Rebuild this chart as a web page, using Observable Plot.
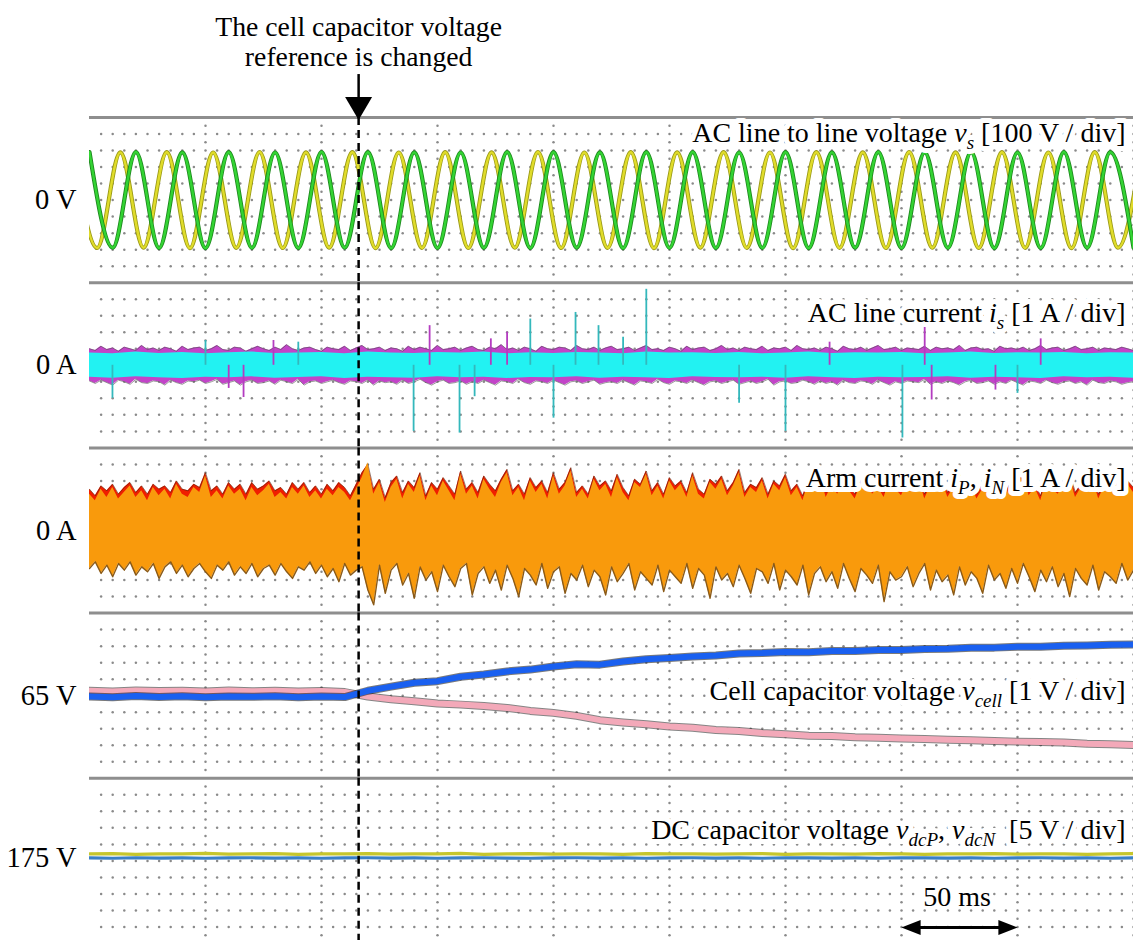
<!DOCTYPE html>
<html>
<head>
<meta charset="utf-8">
<script src="https://cdn.jsdelivr.net/npm/d3@7"></script>
<script src="https://cdn.jsdelivr.net/npm/@observablehq/plot@0.6"></script>
<style>
  body { margin: 0; background: white; }
  svg text { white-space: pre; }
</style>
</head>
<body>
<div id="chart"></div>
<script>
// ---------------- data ----------------
const panels = ["vs", "is", "arm", "cell", "dc"];
const leftLabels = ["0 V", "0 A", "0 A", "65 V", "175 V"];
const leftLabelValues = [0, 0, 0, 65, 175];
const panelTitles = [
  "AC line to line voltage {v|s} [100 V / div]",
  "AC line current {i|s} [1 A / div]",
  "Arm current {i|P}, {i|N} [1 A / div]",
  "Cell capacitor voltage {v|cell} [1 V / div]",
  "DC capacitor voltage {v|dcP}, {v|dcN}  [5 V / div]"
];
const panelCenter = {vs: 0, is: 0, arm: 0, cell: 65, dc: 174.1};
const perDiv = {vs: 100, is: 1, arm: 1, cell: 1, dc: 5};

// time-base (ms): minor / major divisions
const minorX = [5,10,15,20,25,30,35,40,45,55,60,65,70,75,80,85,90,95,105,110,115,120,125,130,135,140,145,155,160,165,170,175,180,185,190,195,205,210,215,220,225,230,235,240,245,255,260,265,270,275,280,285,290,295,305,310,315,320,325,330,335,340,345,355,360,365,370,375,380,385,390,395,405,410,415,420,425,430,435,440,445];
const majorX = [50,100,150,200,250,300,350,400,450];
const gridRows = [-4,-3,-2,-1,0,1,2,3,4];
const majorRows = [-4.5,-4,-3.5,-3,-2.5,-2,-1.5,-1,-0.5,0,0.5,1,1.5,2,2.5,3,3.5,4,4.5];
const changeTime = 116;

// AC line-to-line voltages (extrema, V)
const vsGreenT = [0,10,20,30,40,50,60,70,80,90,100,110,120,130,140,150,160,170,180,190,200,210,220,230,240,250,260,270,280,290,300,310,320,330,340,350,360,370,380,390,400,410,420,430,440,450];
const vsGreenV = [290,-288,291,-290,289,-291,290,-289,288,-290,291,-288,290,-291,289,-290,288,-289,291,-290,290,-288,289,-291,290,-289,291,-290,288,-289,290,-291,289,-288,291,-290,289,-289,290,-291,288,-290,291,-289,290,-288];
const vsYellowT = [-6.7,3.3,13.3,23.3,33.3,43.3,53.3,63.3,73.3,83.3,93.3,103.3,113.3,123.3,133.3,143.3,153.3,163.3,173.3,183.3,193.3,203.3,213.3,223.3,233.3,243.3,253.3,263.3,273.3,283.3,293.3,303.3,313.3,323.3,333.3,343.3,353.3,363.3,373.3,383.3,393.3,403.3,413.3,423.3,433.3,443.3,453.3];
const vsYellowV = [288,-290,289,-288,290,-291,288,-289,291,-290,289,-288,290,-291,288,-289,290,-290,289,-288,291,-290,288,-289,290,-291,289,-288,290,-289,288,-291,290,-289,289,-290,291,-288,289,-290,290,-289,288,-291,290,-288,289];

// AC line current (A), sampled every 2.5 ms / 10 ms
const isMagHi = [1.0,0.9,1.15,0.95,1.05,0.85,1.1,1.0,0.9,1.2, 0.95,1.05,0.9,1.1,1.0,0.85,1.15,0.95,1.05,1.1, 0.9,1.0,1.2,0.95,0.9,1.1,1.05,0.85,1.0,1.15, 1.0,0.9,1.1,0.95,1.25,1.0,0.9,1.05,1.1,0.95, 0.85,1.1,1.0,0.95,1.15,0.9,1.05,1.2,0.95,1.0, 1.1,0.9,1.05,1.0,0.85,1.15,0.95,1.1,1.0,0.9, 1.2,0.95,1.0,1.1,0.9,1.05,1.15,0.95,0.9,1.1, 1.0,1.25,0.95,1.05,0.9,1.1,1.0,0.85,1.15,1.0, 0.95,1.1,1.05,0.9,1.2,1.0,0.95,1.1,0.9,1.05, 1.15,0.95,1.0,1.1,0.9,1.05,1.2,0.95,1.0,0.9, 1.1,1.0,0.85,1.15,0.95,1.05,1.1,0.9,1.0,1.2, 0.95,1.05,0.9,1.1,1.0,0.95,1.15,0.9,1.05,1.0, 1.1,0.9,1.2,1.0,0.95,1.05,0.9,1.1,1.0,0.85, 1.15,1.0,0.95,1.1,0.9,1.05,1.2,0.95,1.0,1.1, 0.9,1.05,1.0,0.95,1.15,0.9,1.1,1.0,1.05,0.95, 1.2,0.9,1.05,1.1,0.95,1.0,0.85,1.15,1.0,1.05, 0.95,1.1,0.9,1.0,1.2,0.95,1.05,1.1,0.9,1.0, 1.15,0.95,1.0,1.1,0.9,1.05,1.0,0.95,1.1,1.0,0.9];
const isMagLo = [-0.95,-1.1,-0.9,-1.05,-1.2,-0.9,-1.0,-1.15,-0.85,-1.05, -1.1,-0.95,-1.0,-1.2,-0.9,-1.05,-1.15,-0.95,-1.0,-0.9, -1.1,-1.0,-0.85,-1.15,-1.05,-0.95,-1.2,-1.0,-0.9,-1.1, -1.05,-0.95,-1.15,-0.9,-1.0,-1.1,-0.85,-1.2,-1.0,-0.95, -1.1,-1.0,-0.9,-1.05,-1.15,-0.95,-1.0,-1.1,-0.9,-1.2, -0.95,-1.05,-1.0,-1.15,-0.9,-1.1,-1.0,-0.85,-1.05,-1.2, -1.0,-0.9,-1.1,-1.05,-0.95,-1.15,-1.0,-1.1,-0.9,-1.05, -1.2,-0.95,-1.0,-1.1,-0.85,-1.05,-1.15,-0.95,-1.0,-1.1, -0.9,-1.05,-1.2,-1.0,-0.95,-1.1,-1.0,-0.9,-1.15,-1.05, -1.0,-1.1,-0.9,-1.05,-1.2,-0.95,-1.0,-1.1,-0.85,-1.05, -1.15,-0.95,-1.0,-1.1,-0.9,-1.05,-1.2,-1.0,-0.95,-1.1, -1.0,-0.9,-1.15,-1.05,-0.95,-1.1,-1.0,-0.85,-1.2,-1.0, -0.95,-1.1,-1.05,-0.9,-1.0,-1.15,-0.95,-1.1,-1.0,-1.2, -0.9,-1.05,-1.1,-0.95,-1.0,-1.15,-0.9,-1.05,-1.2,-1.0, -1.1,-0.95,-1.0,-1.05,-0.85,-1.15,-1.0,-1.1,-0.95,-1.05, -1.2,-1.0,-0.9,-1.1,-1.05,-0.95,-1.15,-1.0,-1.1,-0.9, -1.05,-1.2,-0.95,-1.0,-1.1,-0.9,-1.05,-1.15,-1.0,-0.95, -1.1,-1.0,-1.2,-0.9,-1.05,-1.1,-0.95,-1.0,-1.15,-1.05,-1.0];
const isCyHi = [0.75,0.7,0.8,0.72,0.78,0.7,0.76,0.8,0.72,0.74, 0.78,0.7,0.8,0.75,0.72,0.78,0.74,0.8,0.7,0.76, 0.72,0.78,0.75,0.7,0.8,0.74,0.76,0.72,0.78,0.7, 0.75,0.8,0.72,0.76,0.74,0.78,0.7,0.75,0.8,0.72, 0.76,0.74,0.78,0.7,0.76,0.75];
const isCyLo = [-0.72,-0.78,-0.7,-0.75,-0.8,-0.72,-0.76,-0.7,-0.78,-0.74, -0.7,-0.8,-0.72,-0.76,-0.78,-0.7,-0.75,-0.72,-0.8,-0.74, -0.76,-0.7,-0.78,-0.72,-0.75,-0.8,-0.7,-0.74,-0.76,-0.72, -0.78,-0.7,-0.75,-0.8,-0.72,-0.76,-0.74,-0.7,-0.78,-0.72, -0.75,-0.8,-0.7,-0.76,-0.72,-0.78];
const isSpikeT = [9.9,50,90,139.7,159.5,166,190,200,209.5,219.4,230,240,280,300,350.4,400];
const isSpikeV = [-2.0,1.5,1.4,-4.0,-4.1,-1.9,2.8,-3.2,3.2,2.4,1.7,4.6,-2.3,-4.0,-4.4,-1.7];
const magSpikeT = [60,66.4,79.3,146.6,173,180,319,360,363,390.5,410];
const magSpikeV = [-1.4,-1.95,1.5,2.4,1.6,2.0,1.4,2.3,-2.1,-1.5,1.6];

// Arm currents (A), sampled every 2.5 ms
const armOrangeHi = [2.2,1.8,2.5,2.0,2.6,1.9,2.3,2.7,2.0,2.4, 1.8,2.6,2.1,2.5,1.9,2.8,2.2,2.0,2.6,2.3, 3.3,2.0,2.4,1.9,2.7,2.2,2.5,1.8,2.6,2.1, 2.4,2.8,2.0,2.3,1.9,2.6,2.2,2.7,2.0,2.4, 1.9,2.5,2.1,2.6,2.3,1.8,2.5, 3.2,4.1,2.2, 2.9,1.7,2.6,3.1,1.9,2.8,2.3,3.3,1.8,2.7, 2.1,3.0,2.4,1.8,3.4,2.2,2.7,1.9,3.1,2.5, 2.0,2.9,3.5,2.1,2.6,1.8,3.0,2.3,2.8,1.9, 3.3,2.2,2.7,3.6,2.0,2.5,1.9,3.1,2.4,2.8, 2.0,3.2,2.3,1.8,2.9,2.6,3.4,2.1,2.7,1.9, 3.0,2.4,2.8,2.0,3.3,2.2,1.9,2.9,2.5,3.1, 2.1,2.7,3.5,2.0,2.6,2.3,3.0,1.9,2.8,2.4, 3.2,2.1,2.6,1.8,2.9,2.5,3.3,2.0,2.7,2.2, 3.0,2.4,1.9,2.8,3.4,2.2,2.6,2.0,3.1,2.5, 2.1,2.9,2.4,3.2,1.9,2.7,2.3,3.0,2.0,2.6, 3.3,2.2,2.8,1.9,2.5,3.1,2.3,2.7,2.0,2.9, 2.4,3.4,2.1,2.6,1.8,3.0,2.5,2.2,2.8,3.2, 2.0,2.6,2.3,3.1,1.9,2.7,2.4,3.0,2.1,2.8,2.3];
const armOrangeLo = [-2.3,-1.9,-2.6,-2.1,-2.8,-2.0,-2.4,-1.9,-2.7,-2.2, -2.5,-2.0,-2.9,-2.2,-1.9,-2.6,-2.1,-2.8,-2.3,-2.0, -2.5,-2.9,-2.1,-2.4,-1.9,-2.7,-2.2,-2.6,-2.0,-2.8, -2.3,-2.1,-2.7,-2.0,-2.5,-2.9,-2.2,-2.4,-1.9,-2.6, -2.1,-2.8,-2.3,-3.1,-2.0,-2.7,-2.4, -2.2,-3.6,-4.5, -2.1,-3.8,-2.4,-2.0,-3.3,-2.6,-4.1,-2.2,-3.0,-2.5, -3.7,-2.1,-2.8,-3.4,-2.3,-2.0,-3.9,-2.6,-2.2,-3.2, -2.4,-3.6,-2.1,-2.9,-4.0,-2.3,-2.7,-3.3,-2.0,-3.5, -2.5,-2.2,-3.8,-2.6,-3.0,-2.1,-3.4,-2.4,-2.8,-3.9, -2.2,-3.1,-2.6,-2.0,-3.6,-2.5,-2.9,-3.3,-2.1,-3.7, -2.4,-2.8,-3.2,-2.0,-3.5,-2.3,-2.7,-4.1,-2.2,-3.0, -2.6,-3.4,-2.1,-2.9,-3.8,-2.3,-2.5,-3.2,-2.0,-3.6, -2.4,-2.8,-3.3,-2.1,-3.9,-2.6,-2.2,-3.1,-2.5,-3.5, -2.0,-2.9,-3.7,-2.3,-2.7,-3.2,-2.1,-4.3,-2.5,-3.0, -2.8,-2.2,-3.4,-2.6,-2.0,-3.6,-2.4,-3.1,-2.7,-3.9, -2.2,-3.3,-2.5,-2.9,-3.8,-2.1,-3.0,-2.6,-3.5,-2.3, -3.2,-2.0,-2.8,-3.7,-2.4,-3.1,-2.2,-3.4,-2.6,-4.0, -2.3,-2.9,-3.3,-2.1,-3.6,-2.5,-2.8,-3.2,-2.0,-3.0,-2.4];
const armRedHi = [2.5,2.1,2.7,2.4,2.8,2.2,2.6,2.9,2.3,2.7, 2.2,2.8,2.5,2.7,2.3,3.0,2.5,2.4,2.8,2.6, 3.5,2.4,2.7,2.2,2.9,2.5,2.8,2.2,2.9,2.5, 2.7,3.0,2.4,2.6,2.2,2.9,2.5,2.9,2.3,2.7, 2.2,2.8,2.4,2.9,2.6,2.1,2.8, 3.5,4.0,2.5, 3.1,2.0,2.9,3.3,2.3,3.0,2.6,3.5,2.1,2.9, 2.5,3.2,2.7,2.2,3.6,2.5,2.9,2.3,3.3,2.8, 2.4,3.1,3.7,2.4,2.8,2.2,3.2,2.6,3.0,2.3, 3.5,2.5,2.9,3.8,2.3,2.7,2.2,3.3,2.7,3.0, 2.4,3.4,2.6,2.1,3.1,2.8,3.6,2.4,2.9,2.2, 3.2,2.7,3.0,2.3,3.5,2.5,2.2,3.1,2.8,3.3, 2.4,2.9,3.7,2.3,2.8,2.6,3.2,2.2,3.0,2.7, 3.4,2.4,2.8,2.1,3.1,2.8,3.5,2.3,2.9,2.5, 3.2,2.7,2.2,3.0,3.6,2.5,2.8,2.3,3.3,2.8, 2.4,3.1,2.7,3.4,2.2,2.9,2.6,3.2,2.3,2.8, 3.5,2.5,3.0,2.2,2.8,3.3,2.6,2.9,2.3,3.1, 2.7,3.6,2.4,2.8,2.1,3.2,2.8,2.5,3.0,3.4, 2.3,2.8,2.6,3.3,2.2,2.9,2.7,3.2,2.4,3.0,2.6];

// Cell capacitor voltages (V), every 10 ms
const cellBlue = [64.95,64.9,64.98,64.92,64.96,64.9,64.95,64.93,64.97,64.9,64.95,64.92, 65.3,65.55,65.78,65.88,66.15,66.28,66.47,66.58,66.77,66.9,66.88,67.07,67.2,67.28,67.37,67.44,67.56,67.58,67.64,67.63,67.71,67.7,67.77,67.76,67.82,67.84,67.9,67.91,67.96,67.97,68.02,68.04,68.09,68.1];
const cellPink = [65.3,65.25,65.32,65.28,65.3,65.26,65.31,65.27,65.3,65.25,65.28,65.22, 64.95,64.78,64.66,64.53,64.46,64.38,64.26,64.08,63.96,63.78,63.52,63.38,63.27,63.13,63.06,62.93,62.86,62.74,62.66,62.58,62.56,62.48,62.46,62.41,62.38,62.33,62.31,62.26,62.22,62.19,62.16,62.09,62.06,62.02];
// DC capacitor voltages (V), every 10 ms
const dcYellow = [176.2,176.3,176.1,176.25,176.2,176.35,176.15,176.2,176.3,176.1,176.25,176.2,176.3,176.15,176.25,176.2,176.35,176.1,176.2,176.3,176.15,176.25,176.2,176.1,176.3,176.2,176.25,176.15,176.2,176.3,176.1,176.2,176.25,176.15,176.3,176.2,176.1,176.25,176.2,176.3,176.15,176.2,176.25,176.1,176.2,176.3];
const dcBlue = [175.0,174.9,175.05,174.95,175.0,174.9,175.0,175.05,174.95,175.0,174.9,175.0,175.05,174.95,175.0,174.9,175.0,175.05,174.95,174.9,175.0,175.05,174.95,175.0,174.9,175.0,175.05,174.95,175.0,174.9,175.05,175.0,174.95,175.0,174.9,175.05,175.0,174.95,175.0,174.9,175.0,175.05,174.95,175.0,174.9,175.0];

// ---------------- tables built from the arrays ----------------
const norm = (p, v) => (v - panelCenter[p]) / perDiv[p];
const fine = d3.range(181).map(i => i * 2.5);   // 2.5 ms sample grid
const coarse = d3.range(46).map(i => i * 10);   // 10 ms sample grid
const series = (p, T, V) => T.map((t, i) => ({p, t, y: norm(p, V[i])}));
const band = (p, T, LO, HI) => T.map((t, i) => ({p, t, lo: norm(p, LO[i]), hi: norm(p, HI[i])}));

const green = series("vs", vsGreenT, vsGreenV);
const yellow = series("vs", vsYellowT, vsYellowV);
const magBand = band("is", fine, isMagLo, isMagHi);
const cyBand = band("is", coarse, isCyLo, isCyHi);
const cySpikes = isSpikeT.map((t, i) => ({p: "is", t, y: isSpikeV[i]}));
const mgSpikes = magSpikeT.map((t, i) => ({p: "is", t, y: magSpikeV[i]}));
const armBand = band("arm", fine, armOrangeLo, armOrangeHi);
const armRed = series("arm", fine, armRedHi);
const cBlue = series("cell", coarse, cellBlue);
const cPink = series("cell", coarse, cellPink);
const dY = series("dc", coarse, dcYellow);
const dB = series("dc", coarse, dcBlue);
const minorDots = d3.cross(minorX, gridRows).map(([x, y]) => ({x, y}));
const majorDots = d3.cross(majorX, majorRows).map(([x, y]) => ({x, y}));
const lefts = panels.map((p, i) => ({p, text: leftLabels[i], y: norm(p, leftLabelValues[i])}));
const titleY = [4.03, 3.14, 3.2, 0.31, 1.84];
const titles = panels.map((p, i) => ({p, text: panelTitles[i], y: titleY[i]}));

// custom arrow-head symbols
const triDown = {draw(ctx, size) { const r = Math.sqrt(size / Math.PI); ctx.moveTo(0, 1.15 * r); ctx.lineTo(-1.35 * r, -1.15 * r); ctx.lineTo(1.35 * r, -1.15 * r); ctx.closePath(); }};
const triRight = {draw(ctx, size) { const r = Math.sqrt(size / Math.PI); ctx.moveTo(1.2 * r, 0); ctx.lineTo(-1.2 * r, -0.95 * r); ctx.lineTo(-1.2 * r, 0.95 * r); ctx.closePath(); }};

const FONT = "Liberation Serif, Times New Roman, serif";
const one = (p) => [{p}];

const chart = Plot.plot({
  width: 1133,
  height: 940,
  marginLeft: 89,
  marginRight: 0,
  marginTop: 117,
  marginBottom: -3,
  style: {fontFamily: FONT, background: "white", overflow: "visible"},
  x: {domain: [0, 450], axis: null},
  y: {domain: [-5, 5], axis: null},
  fy: {domain: panels, axis: null, padding: 0, round: false},
  marks: [
    // scope graticule
    Plot.dot(minorDots, {x: "x", y: "y", r: 1.25, fill: "#8a8a8a", stroke: null}),
    Plot.dot(majorDots, {x: "x", y: "y", r: 1.25, fill: "#8a8a8a", stroke: null}),
    Plot.ruleY([5], {stroke: "#8e8e8e", strokeWidth: 3}),

    // panel 1: AC line-to-line voltages
    Plot.line(yellow, {x: "t", y: "y", fy: "p", curve: "monotone-x", stroke: "#9a9a18", strokeWidth: 4.2, clip: true}),
    Plot.line(yellow, {x: "t", y: "y", fy: "p", curve: "monotone-x", stroke: "#e0dc2a", strokeWidth: 2.4, clip: true}),
    Plot.line(green, {x: "t", y: "y", fy: "p", curve: "monotone-x", stroke: "#1f8a1f", strokeWidth: 4.2, clip: true}),
    Plot.line(green, {x: "t", y: "y", fy: "p", curve: "monotone-x", stroke: "#33d433", strokeWidth: 2.4, clip: true}),

    // panel 2: AC line current
    Plot.areaY(magBand, {x: "t", y1: "lo", y2: "hi", fy: "p", fill: "#c244c8", clip: true}),
    Plot.line(magBand, {x: "t", y: "hi", fy: "p", stroke: "#555", strokeWidth: 1, strokeOpacity: 0.6, clip: true}),
    Plot.line(magBand, {x: "t", y: "lo", fy: "p", stroke: "#555", strokeWidth: 1, strokeOpacity: 0.6, clip: true}),
    Plot.areaY(cyBand, {x: "t", y1: "lo", y2: "hi", fy: "p", fill: "#22f2f2", clip: true}),
    Plot.ruleX(mgSpikes, {x: "t", y1: 0, y2: "y", fy: "p", stroke: "#b43cc0", strokeWidth: 1.8}),
    Plot.ruleX(cySpikes, {x: "t", y1: 0, y2: "y", fy: "p", stroke: "#34b8bc", strokeWidth: 1.8}),

    // panel 3: arm currents
    Plot.areaY(armRed, {x: "t", y1: 0, y2: "y", fy: "p", fill: "#f01e00", clip: true}),
    Plot.line(armRed, {x: "t", y: "y", fy: "p", stroke: "#5a2a10", strokeWidth: 1, strokeOpacity: 0.6, clip: true}),
    Plot.areaY(armBand, {x: "t", y1: "lo", y2: "hi", fy: "p", fill: "#f99a0c", clip: true}),
    Plot.line(armBand, {x: "t", y: "lo", fy: "p", stroke: "#8a5a18", strokeWidth: 1.4, clip: true}),

    // panel 4: cell capacitor voltages
    Plot.line(cPink, {x: "t", y: "y", fy: "p", stroke: "#333", strokeWidth: 8, strokeOpacity: 0.6, clip: true}),
    Plot.line(cPink, {x: "t", y: "y", fy: "p", stroke: "#f3a9b9", strokeWidth: 6, clip: true}),
    Plot.line(cBlue, {x: "t", y: "y", fy: "p", stroke: "#222", strokeWidth: 8, strokeOpacity: 0.6, clip: true}),
    Plot.line(cBlue, {x: "t", y: "y", fy: "p", stroke: "#1a60f0", strokeWidth: 6, clip: true}),

    // panel 5: DC capacitor voltages
    Plot.line(dY, {x: "t", y: "y", fy: "p", stroke: "#c6c62c", strokeWidth: 3.2, clip: true}),
    Plot.line(dB, {x: "t", y: "y", fy: "p", stroke: "#3a80c6", strokeWidth: 3.2, clip: true}),

    // moment of the reference change
    Plot.ruleX([changeTime], {stroke: "black", strokeWidth: 2.5, strokeDasharray: "8,5"}),

    // labels
    Plot.text(lefts, {frameAnchor: "left", y: "y", fy: "p", text: "text", textAnchor: "end", dx: -13, fontSize: 28.5, fill: "black"}),
    Plot.text(titles, {frameAnchor: "right", y: "y", fy: "p", text: "text", textAnchor: "end", dx: -8, fontSize: 28, fill: "white", stroke: "white", strokeWidth: 10, strokeLinejoin: "round"}),
    Plot.text(titles, {frameAnchor: "right", y: "y", fy: "p", text: "text", textAnchor: "end", dx: -8, fontSize: 28, fill: "black"}),

    // annotation
    Plot.text(one("vs"), {x: changeTime, y: 9.63, fy: "p", text: () => "The cell capacitor voltage\nreference is changed", fontSize: 27.7, lineHeight: 1.08, fill: "black"}),
    Plot.ruleX(one("vs"), {x: changeTime, y1: 7.6, y2: 6.1, fy: "p", stroke: "black", strokeWidth: 2.5}),
    Plot.dot(one("vs"), {x: changeTime, y: 5.55, fy: "p", symbol: triDown, r: 10, fill: "black", stroke: null}),

    // 50 ms scale
    Plot.ruleY(one("dc"), {y: -4.03, x1: 352, x2: 398, fy: "p", stroke: "black", strokeWidth: 3}),
    Plot.dot(one("dc"), {x: 395.9, y: -4.03, fy: "p", symbol: triRight, r: 8, fill: "black", stroke: null}),
    Plot.dot(one("dc"), {x: 354.1, y: -4.03, fy: "p", symbol: triRight, r: 8, rotate: 180, fill: "black", stroke: null}),
    Plot.text(one("dc"), {x: 374, y: -2.2, fy: "p", text: () => "50 ms", fontSize: 28, fill: "black", stroke: "white", strokeWidth: 6})
  ]
});

// italic symbols with subscripts: {v|s} -> v_s
function richify(svg) {
  const NS = "http://www.w3.org/2000/svg";
  svg.querySelectorAll("text").forEach(t => {
    const s = t.textContent;
    if (!s.includes("{")) return;
    while (t.firstChild) t.removeChild(t.firstChild);
    const add = (txt, attrs) => {
      const ts = document.createElementNS(NS, "tspan");
      for (const k in attrs) ts.setAttribute(k, attrs[k]);
      ts.textContent = txt;
      t.appendChild(ts);
    };
    const re = /\{([^|}]*)\|([^}]*)\}/g;
    let last = 0, m, back = 0;
    while ((m = re.exec(s))) {
      if (m.index > last) { add(s.slice(last, m.index), back ? {dy: back} : {}); back = 0; }
      add(m[1], Object.assign({"font-style": "italic"}, back ? {dy: back} : {}));
      add(m[2], {"font-style": "italic", "font-size": 19, dy: 7});
      back = -7;
      last = re.lastIndex;
    }
    if (last < s.length) add(s.slice(last), back ? {dy: back} : {});
  });
}
richify(chart);
document.getElementById("chart").appendChild(chart);
</script>
</body>
</html>
